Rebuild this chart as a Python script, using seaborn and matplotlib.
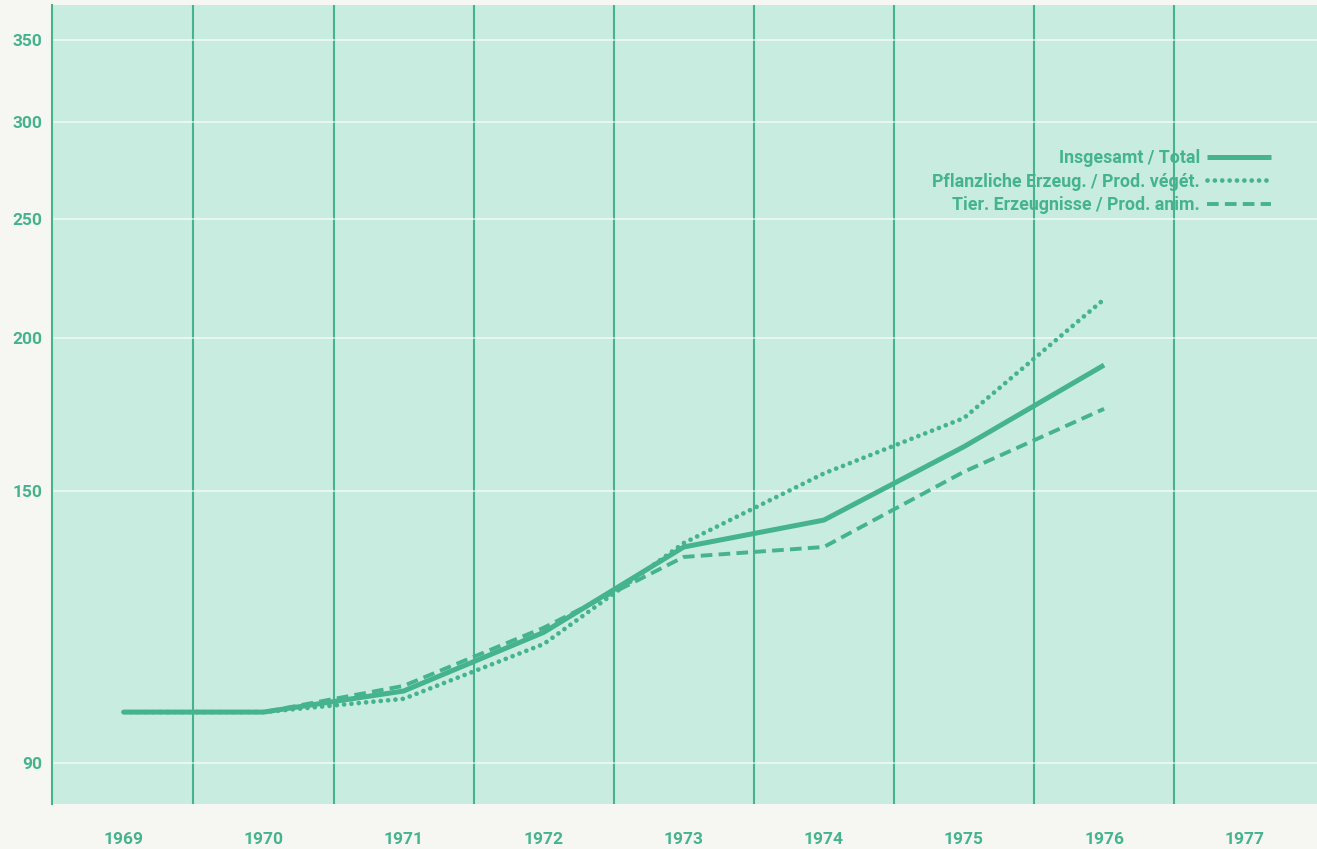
import numpy as np
import pandas as pd
import seaborn as sns
import matplotlib.pyplot as plt
from matplotlib.ticker import FixedLocator, FixedFormatter, NullLocator

years = [1969, 1970, 1971, 1972, 1973, 1974, 1975, 1976]
total = [99, 99, 103, 115, 135, 142, 163, 190]
vegetal = [99, 99, 101.5, 112.5, 136, 155, 172, 215]
animal = [99, 99, 104, 116, 132.5, 135, 155.5, 175]

year_labels = [1969, 1970, 1971, 1972, 1973, 1974, 1975, 1976, 1977]
y_ticks = [90, 150, 200, 250, 300, 350]

labels = ["Insgesamt / Total",
          "Pflanzliche Erzeug. / Prod. végét.",
          "Tier. Erzeugnisse / Prod. anim."]

green = "#45b38e"
mint = "#c8ecdf"
paper = "#f6f6f2"

sns.set_theme(style="white")
plt.rcParams["font.family"] = ["Roboto", "DejaVu Sans"]

fig = plt.figure(figsize=(13.17, 8.49), dpi=100, facecolor=paper)
ax = fig.add_axes([52 / 1317, 1 - 804 / 849, 1 - 52 / 1317, (804 - 5) / 849])
ax.set_facecolor(mint)

df = pd.DataFrame({"year": years, "total": total, "veg": vegetal, "anim": animal})

sns.lineplot(data=df, x="year", y="total", color=green, lw=3.6,
             label=labels[0], ax=ax, solid_capstyle="butt")
sns.lineplot(data=df, x="year", y="veg", color=green, lw=3.4,
             linestyle=(0, (0.01, 1.55)), dash_capstyle="round",
             label=labels[1], ax=ax)
sns.lineplot(data=df, x="year", y="anim", color=green, lw=2.8,
             linestyle=(0, (3.0, 1.6)), label=labels[2], ax=ax)

ax.set_yscale("log")
ax.set_ylim(83.3, 373.7)
ax.set_xlim(1968.49, 1977.52)

ax.yaxis.set_major_locator(FixedLocator(y_ticks))
ax.yaxis.set_major_formatter(FixedFormatter([str(t) for t in y_ticks]))
ax.yaxis.set_minor_locator(NullLocator())
ax.xaxis.set_major_locator(FixedLocator(year_labels))
ax.xaxis.set_major_formatter(FixedFormatter([str(y) for y in year_labels]))
ax.xaxis.set_minor_locator(FixedLocator([y + 0.5 for y in year_labels[:-1]]))

ax.grid(False)
ax.grid(True, which="major", axis="y", color="white", lw=1.1, alpha=0.75)
ax.grid(True, which="minor", axis="x", color=green, lw=1.5)

for s in ["top", "right", "bottom"]:
    ax.spines[s].set_visible(False)
ax.spines["left"].set_color(green)
ax.spines["left"].set_linewidth(1.5)

ax.tick_params(axis="both", which="both", length=0, colors=green, labelsize=12.5)
ax.tick_params(axis="x", pad=20)
ax.tick_params(axis="y", pad=7)
for t in ax.get_xticklabels() + ax.get_yticklabels():
    t.set_fontweight("bold")
ax.set_xlabel("")
ax.set_ylabel("")

leg = ax.legend(loc="upper right", bbox_to_anchor=(1271 / 1317, 1 - 149 / 849),
                bbox_transform=fig.transFigure, markerfirst=False, frameon=False,
                fontsize=12.8, handlelength=3.6, handletextpad=0.4,
                labelspacing=0.32, borderpad=0, borderaxespad=0)
for t in leg.get_texts():
    t.set_color(green)
    t.set_fontweight("bold")

fig.savefig("out.png", dpi=100, facecolor=paper)
